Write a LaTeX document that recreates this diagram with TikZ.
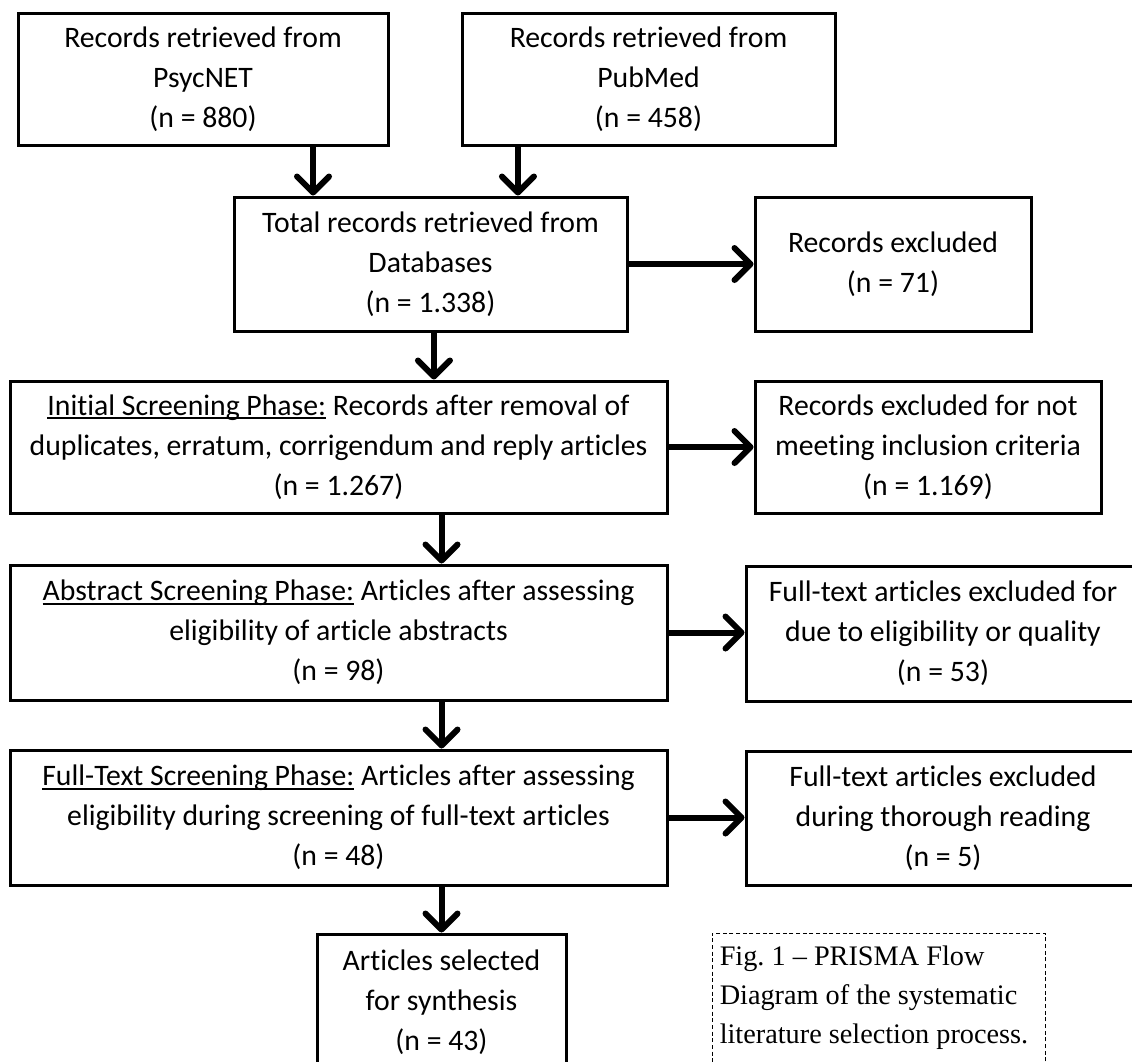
\documentclass[tikz,border=0pt]{standalone}
\usepackage{fontspec}
\setmainfont{Carlito}[RawFeature=-liga]
\newfontfamily\capfont{Liberation Serif}
\usetikzlibrary{arrows.meta,calc}
\newcommand\myul[1]{\setbox0=\hbox{#1}\rlap{\rule[-0.13em]{\wd0}{0.065em}}\box0\relax}
\tikzset{
  box/.style={draw=black, line width=2.25pt, rectangle, inner sep=0pt, align=center,
    font=\fontsize{22.3}{30}\selectfont},
  arr/.style={line width=4.5pt, -{Straight Barb[length=12pt,width=24pt,line cap=round,line join=round]}},
  capbox/.style={draw=black, line width=0.75pt, dashed, dash pattern=on 3pt off 2pt, rectangle, inner sep=0pt},
  captext/.style={align=left, inner sep=0pt, font=\capfont\fontsize{21.2}{29}\selectfont}
}
\begin{document}
\begin{tikzpicture}[x=0.75pt,y=-0.75pt]
\useasboundingbox (0,0) rectangle (1132,1061);
\clip (0,0) rectangle (1132,1061);
\node[box, minimum width=277.5pt, minimum height=99pt] (b1) at (203,79)
  {Records retrieved from\\PsycNET\\(n = 880)};
\node[box, minimum width=279.75pt, minimum height=99pt] (b2) at (648.5,79)
  {Records retrieved from\\PubMed\\(n = 458)};
\node[box, minimum width=294.75pt, minimum height=100.5pt] (b3) at (430.5,264)
  {Total records retrieved from\\Databases\\(n = 1.338)};
\node[box, minimum width=207pt, minimum height=100.5pt] (b4) at (893,264)
  {Records excluded\\(n = 71)};
\node[box, minimum width=492.75pt, minimum height=99pt] (b5) at (338.5,447)
  {\myul{Initial Screening Phase:} Records after removal of\\duplicates, erratum, corrigendum and reply articles\\(n = 1.267)};
\node[box, minimum width=259.5pt, minimum height=99pt] (b6) at (928,447)
  {Records excluded for not\\meeting inclusion criteria\\(n = 1.169)};
\node[box, minimum width=492.75pt, minimum height=101.25pt] (b7) at (338.5,632.5)
  {\myul{Abstract Screening Phase:} Articles after assessing\\eligibility of article abstracts\\(n = 98)};
\node[box, minimum width=295.5pt, minimum height=101.25pt] (b8) at (943,633.5)
  {Full-text articles excluded for\\due to eligibility or quality\\(n = 53)};
\node[box, minimum width=492.75pt, minimum height=101.25pt] (b9) at (338.5,817.5)
  {\myul{Full-Text Screening Phase:} Articles after assessing\\eligibility during screening of full-text articles\\(n = 48)};
\node[box, minimum width=295.5pt, minimum height=100.5pt] (b10) at (943,818)
  {Full-text articles excluded\\during thorough reading\\(n = 5)};
\node[box, minimum width=186.75pt, minimum height=102pt] (b11) at (441.5,1002)
  {Articles selected\\for synthesis\\(n = 43)};
\node[capbox, minimum width=249.75pt, minimum height=106.5pt] (cap) at (878.5,1004) {};
\node[captext, anchor=north west] (capt) at ([xshift=6pt,yshift=-10pt]cap.north west)
  {Fig.\ 1 – PRISMA Flow\\Diagram of the systematic\\literature selection process.};
% connectors
\draw[arr] ([xshift=82.5pt]b1.south) -- ([xshift=82.5pt]b1.south |- b3.north);
\draw[arr] ([xshift=-97.9pt]b2.south) -- ([xshift=-97.9pt]b2.south |- b3.north);
\draw[arr] ([xshift=2.6pt]b3.south) -- ([xshift=2.6pt]b3.south |- b5.north);
\draw[arr] (b3.east) -- (b4.west);
\draw[arr] (b5.east) -- (b6.west);
\draw[arr] (b5.south -| b11.north) -- (b7.north -| b11.north);
\draw[arr] (b7.east) -- (b7.east -| b8.west);
\draw[arr] (b7.south -| b11.north) -- (b9.north -| b11.north);
\draw[arr] (b9.east) -- (b9.east -| b10.west);
\draw[arr] (b9.south -| b11.north) -- (b11.north);
\end{tikzpicture}
\end{document}
